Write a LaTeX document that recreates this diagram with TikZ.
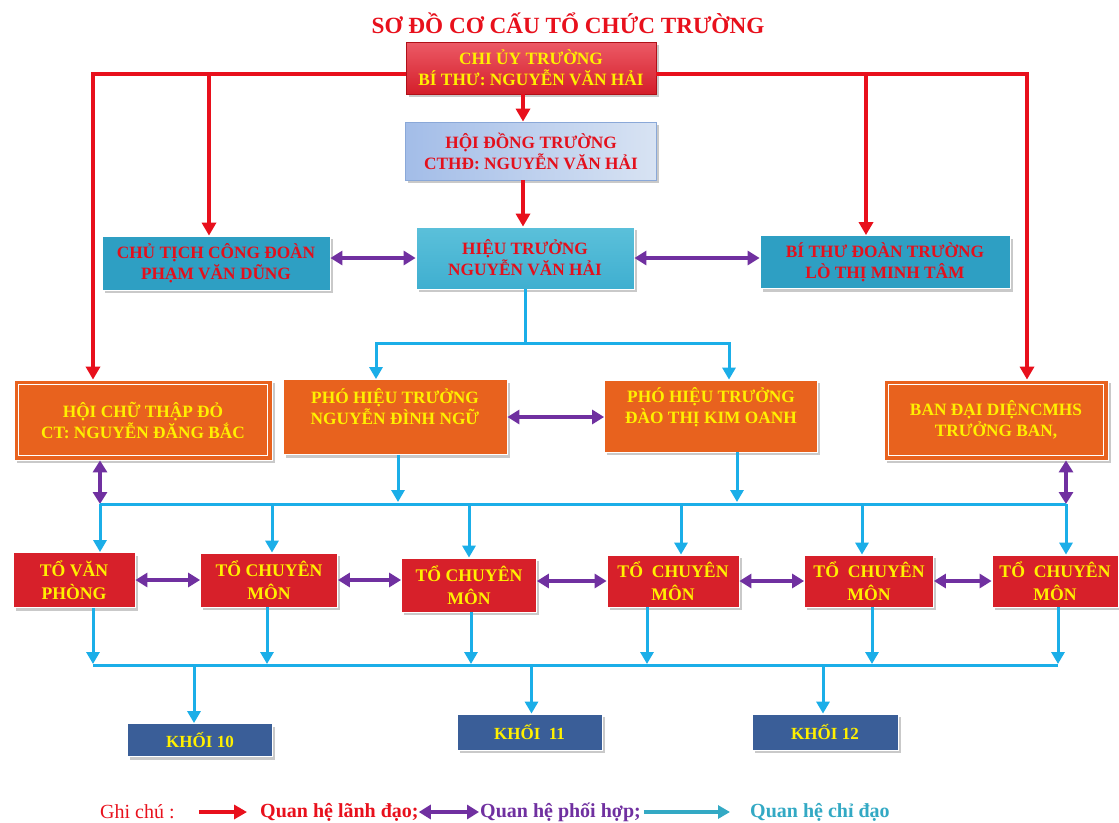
\documentclass[tikz,border=0pt]{standalone}
\usepackage{fontspec}
\setmainfont{Liberation Serif}
\usetikzlibrary{arrows.meta,shadows}
\definecolor{lred}{HTML}{E8101C}
\definecolor{lpur}{HTML}{7030A0}
\definecolor{lcy}{HTML}{1BAEE8}
\definecolor{lteal}{HTML}{33A9C4}
\definecolor{tyel}{HTML}{FFF000}
\definecolor{tred}{HTML}{E3101C}
\definecolor{cteal}{HTML}{2E9FC3}
\definecolor{cteal2}{HTML}{5BC0DA}
\definecolor{cteal3}{HTML}{3FAFD0}
\definecolor{corange}{HTML}{E8621E}
\definecolor{cred}{HTML}{D7202A}
\definecolor{cblue}{HTML}{3A5E98}
\definecolor{rtop}{HTML}{EC5A66}
\definecolor{rbot}{HTML}{D41E2A}
\definecolor{rdraw}{HTML}{B01018}
\definecolor{hleft}{HTML}{A3BDE8}
\definecolor{hright}{HTML}{D8E3F3}
\definecolor{hdraw}{HTML}{8AA8D8}
\tikzset{
 boxbase/.style={draw=white, line width=0.8pt, inner sep=2pt, align=center,
   font=\bfseries\fontsize{17.3}{21}\selectfont,
   drop shadow={shadow xshift=2.5pt, shadow yshift=-3pt, fill=black!35, opacity=0.6}},
 redbox/.style={boxbase, top color=rtop, bottom color=rbot, draw=rdraw, text=tyel},
 hdbox/.style={boxbase, left color=hleft, right color=hright, draw=hdraw, text=tred},
 tealbox/.style={boxbase, fill=cteal, text=tred},
 htbox/.style={boxbase, top color=cteal2, bottom color=cteal3, text=tred},
 orbox/.style={boxbase, fill=corange, text=tyel},
 tobox/.style={boxbase, fill=cred, text=tyel, font=\bfseries\fontsize{17.7}{23}\selectfont},
 kbox/.style={boxbase, fill=cblue, text=tyel, font=\bfseries\fontsize{17}{19}\selectfont},
 leadl/.style={draw=lred, line width=3.6pt},
 leada/.style={leadl, -{Triangle[length=13pt,width=14pt]}},
 coop/.style={draw=lpur, line width=3.8pt, {Triangle[length=12pt,width=14pt]}-{Triangle[length=12pt,width=14pt]}},
 chil/.style={draw=lcy, line width=3pt},
 chia/.style={chil, -{Triangle[length=12pt,width=13pt]}},
 legtxt/.style={font=\bfseries\fontsize{20}{23}\selectfont, inner sep=0pt, anchor=west}
}
\begin{document}
\begin{tikzpicture}[x=1pt,y=-1pt]
\useasboundingbox (0,0) rectangle (1119,822);
\fill[white] (0,0) rectangle (1119,822);

\node[font=\bfseries\fontsize{23.2}{27}\selectfont, text=lred, inner sep=0pt] (title) at (568,23) {SƠ ĐỒ CƠ CẤU TỔ CHỨC TRƯỜNG};

\coordinate (rL) at (93,74);
\coordinate (rR) at (1027,74);
\coordinate (L2) at (100,504);
\coordinate (L3) at (93,665);
\coordinate (C1) at (523,343);

\node[redbox, minimum width=250pt, minimum height=52pt] (chiuy) at (531,68) {CHI ỦY TRƯỜNG\\BÍ THƯ: NGUYỄN VĂN HẢI};
\node[hdbox, minimum width=251pt, minimum height=58pt] (hdt) at (531,151) {HỘI ĐỒNG TRƯỜNG\\CTHĐ: NGUYỄN VĂN HẢI};
\node[htbox, minimum width=218pt, minimum height=62pt] (ht) at (525,258) {HIỆU TRƯỞNG\\NGUYỄN VĂN HẢI};
\node[tealbox, minimum width=228pt, minimum height=54pt] (ctcd) at (216,263) {CHỦ TỊCH CÔNG ĐOÀN\\PHẠM VĂN DŨNG};
\node[tealbox, minimum width=250pt, minimum height=53pt] (btd) at (885,262) {BÍ THƯ ĐOÀN TRƯỜNG\\LÒ THỊ MINH TÂM};

\node[orbox, minimum width=258pt, minimum height=80pt] (hctd) at (143,420) {HỘI CHỮ THẬP ĐỎ\\CT: NGUYỄN ĐĂNG BẮC};
\node[orbox, minimum width=224pt, minimum height=75pt] (pht1) at (395,417) {PHÓ HIỆU TRƯỞNG\\NGUYỄN ĐÌNH NGỮ\\\phantom{X}};
\node[orbox, minimum width=213pt, minimum height=72pt] (pht2) at (711,416) {PHÓ HIỆU TRƯỞNG\\ĐÀO THỊ KIM OANH\\\phantom{X}};
\node[orbox, minimum width=224pt, minimum height=80pt] (bdd) at (996,420) {BAN ĐẠI DIỆNCMHS\\TRƯỞNG BAN,};
\draw[white, line width=1.3pt] ([shift={(5,5)}]hctd.north west) rectangle ([shift={(-5,-5)}]hctd.south east);
\draw[white, line width=1.3pt] ([shift={(5,5)}]bdd.north west) rectangle ([shift={(-5,-5)}]bdd.south east);

\node[tobox, minimum width=122pt, minimum height=55pt] (t1) at (74,580) {TỔ VĂN\\PHÒNG};
\node[tobox, minimum width=137pt, minimum height=54pt] (t2) at (269,580) {TỔ CHUYÊN\\MÔN};
\node[tobox, minimum width=135pt, minimum height=54pt] (t3) at (469,585) {TỔ CHUYÊN\\MÔN};
\node[tobox, minimum width=132pt, minimum height=52pt] (t4) at (673,581) {TỔ~ CHUYÊN\\MÔN};
\node[tobox, minimum width=129pt, minimum height=52pt] (t5) at (869,581) {TỔ~ CHUYÊN\\MÔN};
\node[tobox, minimum width=126pt, minimum height=52pt] (t6) at (1055,581) {TỔ~ CHUYÊN\\MÔN};

\node[kbox, minimum width=145pt, minimum height=33pt] (k10) at (200,740) {KHỐI 10};
\node[kbox, minimum width=145pt, minimum height=36pt] (k11) at (529.5,732) {KHỐI~ 11};
\node[kbox, minimum width=146pt, minimum height=36pt] (k12) at (825,732) {KHỐI 12};

% leadership (red)
\draw[leada] (chiuy.west |- rL) -- (rL) -- ([xshift=-50pt]hctd.north);
\draw[leada] (chiuy.east |- rR) -- (rR) -- ([xshift=31pt]bdd.north);
\draw[leada] ([xshift=-7pt]ctcd.north |- rL) -- ([xshift=-7pt]ctcd.north);
\draw[leada] ([xshift=-19pt]btd.north |- rR) -- ([xshift=-19pt]btd.north);
\draw[leada] ([xshift=-8pt]chiuy.south) -- ([xshift=-8pt]hdt.north);
\draw[leada] ([xshift=-8pt]hdt.south) -- ([xshift=-2pt]ht.north);

% coordination (purple)
\draw[coop] (ctcd.east |- ht.west) -- (ht.west);
\draw[coop] (ht.east) -- (btd.west |- ht.east);
\draw[coop] (pht1.east) -- (pht1.east -| pht2.west);
\draw[coop] ([xshift=-43pt]hctd.south) -- ([xshift=-43pt]hctd.south |- L2);
\draw[coop] ([xshift=70pt]bdd.south) -- ([xshift=70pt]bdd.south |- L2);
\draw[coop] (t1.east) -- (t1.east -| t2.west);
\draw[coop] (t2.east) -- (t2.east -| t3.west);
\draw[coop] (t3.east |- t4.west) -- (t4.west);
\draw[coop] (t4.east) -- (t5.west);
\draw[coop] (t5.east) -- (t6.west);

% direction (cyan)
\draw[chil] (ht.south) -- (ht.south |- C1);
\draw[chia] (ht.south |- C1) -| ([xshift=-19pt]pht1.north);
\draw[chia] (ht.south |- C1) -| ([xshift=18pt]pht2.north);
\draw[chia] ([xshift=3pt]pht1.south) -- ([xshift=3pt,yshift=2pt]pht1.south |- L2);
\draw[chia] ([xshift=26pt]pht2.south) -- ([xshift=26pt,yshift=2pt]pht2.south |- L2);
\draw[chil] (L2) -- ([xshift=70pt]bdd.south |- L2);
\draw[chia] ([xshift=26pt]t1.north |- L2) -- ([xshift=26pt]t1.north);
\draw[chia] ([xshift=3pt]t2.north |- L2) -- ([xshift=3pt]t2.north);
\draw[chia] (t3.north |- L2) -- (t3.north);
\draw[chia] ([xshift=8pt]t4.north |- L2) -- ([xshift=8pt]t4.north);
\draw[chia] ([xshift=-7pt]t5.north |- L2) -- ([xshift=-7pt]t5.north);
\draw[chia] ([xshift=11pt]t6.north |- L2) -- ([xshift=11pt]t6.north);

\draw[chia] ([xshift=19pt]t1.south) -- ([xshift=19pt,yshift=1pt]t1.south |- L3);
\draw[chia] ([xshift=-2pt]t2.south) -- ([xshift=-2pt,yshift=1pt]t2.south |- L3);
\draw[chia] ([xshift=2pt]t3.south) -- ([xshift=2pt,yshift=1pt]t3.south |- L3);
\draw[chia] ([xshift=-26pt]t4.south) -- ([xshift=-26pt,yshift=1pt]t4.south |- L3);
\draw[chia] ([xshift=3pt]t5.south) -- ([xshift=3pt,yshift=1pt]t5.south |- L3);
\draw[chia] ([xshift=3pt]t6.south) -- ([xshift=3pt,yshift=1pt]t6.south |- L3);
\draw[chil] (L3) -- ([xshift=3pt]t6.south |- L3);
\draw[chia] ([xshift=-6pt]k10.north |- L3) -- ([xshift=-6pt]k10.north);
\draw[chia] ([xshift=2pt]k11.north |- L3) -- ([xshift=2pt]k11.north);
\draw[chia] ([xshift=-2pt]k12.north |- L3) -- ([xshift=-2pt]k12.north);

% legend
\node[font=\fontsize{20}{23}\selectfont, text=lred, inner sep=0pt, anchor=west] (ghichu) at (100,812) {Ghi chú :};
\node[legtxt, text=lred] (lg1) at (260,812) {Quan hệ lãnh đạo;};
\node[legtxt, text=lpur] (lg2) at (480,812) {Quan hệ phối hợp;};
\node[legtxt, text=lteal] (lg3) at (750,812) {Quan hệ chỉ đạo};
\draw[leada, line width=3.2pt, shorten <=24pt, shorten >=13pt] (ghichu.east) -- (lg1.west);
\draw[coop, line width=3.2pt, shorten <=0pt, shorten >=1pt] (lg1.east) -- (lg2.west);
\draw[chia, draw=lteal, line width=3.2pt, shorten <=3pt, shorten >=20pt] (lg2.east) -- (lg3.west);
\end{tikzpicture}
\end{document}
